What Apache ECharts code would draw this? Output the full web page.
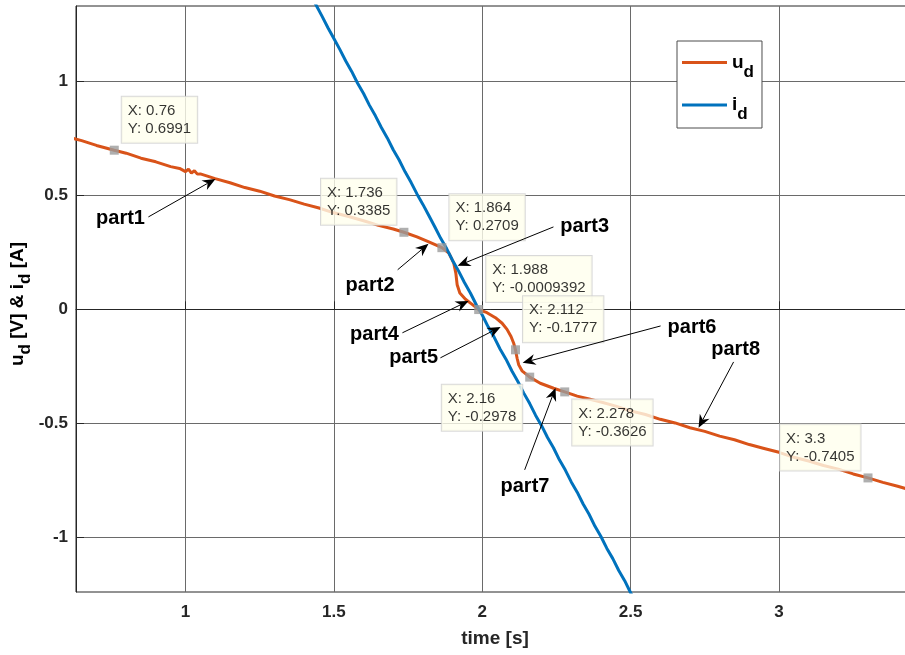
<!DOCTYPE html>
<html>
<head>
<meta charset="utf-8">
<script src="https://cdn.jsdelivr.net/npm/echarts@6/dist/echarts.min.js"></script>
<style>
  html, body { margin: 0; padding: 0; background: #fff; }
  #chart { width: 905px; height: 655px; }
</style>
</head>
<body>
<div id="chart"></div>
<script>
// u_d trace: time [s] and voltage [V]
const udTime = [0.60, 0.65, 0.70, 0.76, 0.80, 0.85, 0.90, 0.95, 0.98, 1.00, 1.01, 1.02, 1.03, 1.04, 1.05,
  1.10, 1.15, 1.20, 1.25, 1.30, 1.35, 1.40, 1.45, 1.50, 1.55, 1.60, 1.65, 1.70, 1.736, 1.78, 1.82, 1.864,
  1.8875, 1.904, 1.911, 1.9155, 1.9245, 1.9435, 1.966, 1.988, 2.016, 2.0445, 2.067, 2.0835, 2.097, 2.106,
  2.112, 2.1175, 2.123, 2.134, 2.151, 2.16, 2.1955, 2.2405, 2.278, 2.32, 2.36, 2.40, 2.45, 2.50, 2.55,
  2.60, 2.65, 2.70, 2.75, 2.80, 2.85, 2.90, 2.95, 3.00, 3.05, 3.10, 3.15, 3.20, 3.25, 3.30, 3.35, 3.40, 3.46];
const udValue = [0.758, 0.741, 0.720, 0.6991, 0.686, 0.664, 0.648, 0.627, 0.619, 0.605, 0.616, 0.598, 0.609, 0.594, 0.595,
  0.574, 0.556, 0.535, 0.519, 0.498, 0.482, 0.462, 0.445, 0.424, 0.408, 0.389, 0.369, 0.353, 0.3385, 0.318, 0.296, 0.2709,
  0.247, 0.203, 0.159, 0.108, 0.0715, 0.0443, 0.022, -0.0009392, -0.0146, -0.0366, -0.061, -0.0879, -0.1195, -0.149,
  -0.1777, -0.2148, -0.244, -0.270, -0.288, -0.2978, -0.3246, -0.3466, -0.3626, -0.381, -0.394, -0.407, -0.425, -0.446, -0.462,
  -0.483, -0.499, -0.520, -0.536, -0.557, -0.573, -0.594, -0.611, -0.628, -0.650, -0.666, -0.686, -0.702, -0.723, -0.7405, -0.760, -0.777, -0.800];

// i_d trace: time [s] and current [A]
const idTime = [1.40, 1.42, 1.44, 1.46, 1.48, 1.50, 1.52, 1.54, 1.56, 1.58, 1.60, 1.62, 1.64, 1.66, 1.68, 1.70,
  1.72, 1.74, 1.76, 1.78, 1.80, 1.82, 1.84, 1.86, 1.88, 1.90, 1.92, 1.94, 1.96, 1.98, 2.00, 2.02, 2.04, 2.06,
  2.08, 2.10, 2.12, 2.14, 2.16, 2.18, 2.20, 2.22, 2.24, 2.26, 2.28, 2.30, 2.32, 2.34, 2.36, 2.38, 2.40, 2.42,
  2.44, 2.46, 2.48, 2.50, 2.52];
const idValue = [1.434, 1.382, 1.337, 1.288, 1.237, 1.190, 1.142, 1.091, 1.045, 0.993, 0.948, 0.896, 0.850, 0.799, 0.753, 0.701,
  0.656, 0.604, 0.558, 0.507, 0.461, 0.412, 0.363, 0.312, 0.267, 0.215, 0.169, 0.118, 0.072, 0.020, -0.025, -0.077, -0.122, -0.174,
  -0.219, -0.271, -0.317, -0.368, -0.414, -0.466, -0.511, -0.563, -0.608, -0.661, -0.706, -0.758, -0.803, -0.855, -0.900, -0.953, -0.998, -1.050,
  -1.095, -1.147, -1.192, -1.245, -1.290];

// data cursor readouts on u_d
const tipTime = [0.76, 1.736, 1.864, 1.988, 2.112, 2.16, 2.278, 3.3];
const tipValue = [0.6991, 0.3385, 0.2709, -0.0009392, -0.1777, -0.2978, -0.3626, -0.7405];

const xTicks = [1, 1.5, 2, 2.5, 3];
const yTicks = [-1, -0.5, 0, 0.5, 1];

const seriesNames = ['u_d', 'i_d'];
const partNames = ['part1', 'part2', 'part3', 'part4', 'part5', 'part6', 'part7', 'part8'];

// annotation placement in axis units: label centre, arrow tail, arrow head
const partLabelAt = [[0.781, 0.397], [1.622, 0.103], [2.345, 0.362], [1.637, -0.112],
  [1.769, -0.213], [2.707, -0.081], [2.144, -0.780], [2.854, -0.178]];
const partTail = [[0.875, 0.406], [1.715, 0.174], [2.240, 0.362], [1.731, -0.103],
  [1.859, -0.213], [2.601, -0.073], [2.143, -0.705], [2.847, -0.231]];
const partHead = [[1.101, 0.573], [1.819, 0.288], [1.917, 0.191], [1.954, 0.037],
  [2.062, -0.077], [2.136, -0.235], [2.247, -0.345], [2.729, -0.520]];

// which side of its marker each readout box sits on
const tipCorner = ['ne', 'nw', 'ne', 'ne', 'ne', 'sw', 'se', 'nw'];

const FONT = '"Liberation Sans", Arial, Helvetica, sans-serif';
const INK = '#262626';
const ORANGE = '#D95319';
const BLUE = '#0072BD';

function pairs(xs, ys) { return xs.map((x, i) => [x, ys[i]]); }

function subscriptRich(main, sub, shift) {
  return {
    m: { fontFamily: FONT, fontWeight: 'bold', fontSize: main, color: '#000', verticalAlign: 'middle' },
    s: { fontFamily: FONT, fontWeight: 'bold', fontSize: sub, color: '#000', verticalAlign: 'middle', padding: [shift, 0, 0, 0] }
  };
}

function tipLabel(corner) {
  const gap = 7.5, half = 4.5;
  const right = corner.indexOf('e') >= 0;
  const up = corner.indexOf('n') >= 0;
  return {
    position: [right ? half + gap : half - gap, up ? half - gap : half + gap],
    align: right ? 'left' : 'right',
    verticalAlign: up ? 'bottom' : 'top'
  };
}

const chart = echarts.init(document.getElementById('chart'), null, { renderer: 'canvas' });

chart.setOption({
  animation: false,
  backgroundColor: '#fff',
  grid: {
    left: 76, top: 6, right: -9, bottom: 63,
    show: true, borderColor: INK, borderWidth: 1, backgroundColor: '#fff',
    containLabel: false, outerBoundsMode: 'none'
  },
  legend: {
    data: seriesNames,
    orient: 'vertical',
    left: 677, top: 41,
    padding: [12, 8, 5, 5],
    itemGap: 15,
    itemWidth: 45, itemHeight: 3,
    icon: 'rect',
    backgroundColor: '#fff',
    borderColor: '#4d4d4d', borderWidth: 1, borderRadius: 0,
    selectedMode: false,
    formatter: name => { const p = name.split('_'); return '{m|' + p[0] + '}{s|' + p[1] + '}'; },
    textStyle: { rich: subscriptRich(19, 17, 19) }
  },
  xAxis: {
    type: 'value',
    min: 0.631, max: 3.455,
    name: 'time [s]',
    nameLocation: 'middle',
    nameGap: 37,
    nameMoveOverlap: false,
    nameTextStyle: { fontFamily: FONT, fontWeight: 'bold', fontSize: 19, color: INK },
    axisLine: { show: true, lineStyle: { color: INK, width: 1 } },
    axisTick: { show: true, inside: true, length: 8, customValues: xTicks, lineStyle: { color: INK } },
    axisLabel: { customValues: xTicks, margin: 12, fontFamily: FONT, fontWeight: 'bold', fontSize: 17, color: INK },
    splitLine: { show: true, lineStyle: { color: '#6a6a6a', width: 1 } }
  },
  yAxis: {
    type: 'value',
    min: -1.2416, max: 1.3325,
    name: '{m|u}{s|d}{m| [V] & i}{s|d}{m| [A]}',
    nameLocation: 'middle',
    nameGap: 42,
    nameMoveOverlap: false,
    nameTextStyle: { rich: subscriptRich(19, 17, 16), padding: [0, 10, 0, 0] },
    axisLine: { show: true, lineStyle: { color: INK, width: 1 } },
    axisTick: { show: true, inside: true, length: 8, customValues: yTicks, lineStyle: { color: INK } },
    axisLabel: { customValues: yTicks, margin: 8, fontFamily: FONT, fontWeight: 'bold', fontSize: 17, color: INK },
    splitLine: { show: true, lineStyle: { color: '#6a6a6a', width: 1 } }
  },
  series: [
    {
      name: 'u_d', type: 'line', data: pairs(udTime, udValue),
      showSymbol: false, symbol: 'none', smooth: false, clip: true,
      lineStyle: { color: ORANGE, width: 3 }, itemStyle: { color: ORANGE },
      emphasis: { disabled: true }, z: 2
    },
    {
      name: 'i_d', type: 'line', data: pairs(idTime, idValue),
      showSymbol: false, symbol: 'none', smooth: false, clip: true,
      lineStyle: { color: BLUE, width: 3 }, itemStyle: { color: BLUE },
      emphasis: { disabled: true }, z: 3
    },
    {
      name: 'readouts', type: 'scatter', z: 6,
      data: tipTime.map((x, i) => ({ value: [x, tipValue[i]], label: tipLabel(tipCorner[i]) })),
      symbol: 'rect', symbolSize: 9,
      itemStyle: { color: '#9b9b9b' },
      emphasis: { disabled: true },
      label: {
        show: true,
        formatter: p => '{t|X: ' + p.value[0] + '}\n{t|Y: ' + p.value[1] + '}',
        rich: { t: { fontFamily: FONT, fontSize: 15, lineHeight: 18, color: '#000', align: 'left' } },
        fontFamily: FONT, fontSize: 15, lineHeight: 18, color: '#000',
        backgroundColor: '#ffffee', borderColor: '#cfcfcf', borderWidth: 1,
        padding: [5, 6, 5, 6]
      }
    },
    {
      name: 'parts', type: 'custom', z: 7, clip: false,
      data: partHead,
      silent: true,
      renderItem: (params, api) => {
        const i = params.dataIndex;
        const t = api.coord(partTail[i]);
        const h = api.coord(partHead[i]);
        const c = api.coord(partLabelAt[i]);
        const dx = h[0] - t[0], dy = h[1] - t[1];
        const len = Math.hypot(dx, dy);
        const ux = dx / len, uy = dy / len, nx = -uy, ny = ux;
        const L = 13, W = 5.5, notch = 9;
        const bx = h[0] - ux * L, by = h[1] - uy * L;
        const mx = h[0] - ux * notch, my = h[1] - uy * notch;
        return {
          type: 'group',
          children: [
            { type: 'line', shape: { x1: t[0], y1: t[1], x2: mx, y2: my }, style: { stroke: '#000', lineWidth: 1 } },
            { type: 'polygon', shape: { points: [[h[0], h[1]], [bx + nx * W, by + ny * W], [mx, my], [bx - nx * W, by - ny * W]] },
              style: { fill: '#000' } },
            { type: 'text', x: c[0], y: c[1],
              style: { text: partNames[i], fill: '#000', font: 'bold 20px ' + FONT, align: 'center', verticalAlign: 'middle' } }
          ]
        };
      }
    }
  ]
});
</script>
</body>
</html>
